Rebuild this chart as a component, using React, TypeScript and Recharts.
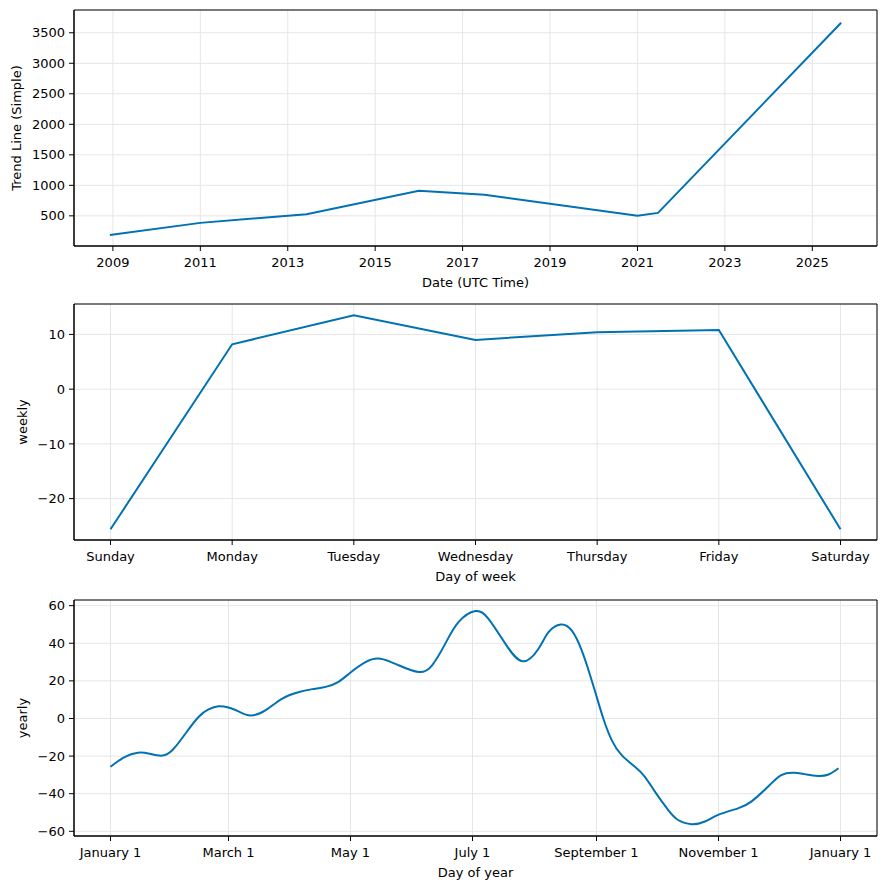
import React from 'react';
import { LineChart, Line, XAxis, YAxis, CartesianGrid, ReferenceArea } from 'recharts';

// Panel 1: trend
const trendYears = [2008.93, 2011.0, 2013.43, 2016.0, 2017.5, 2021.0, 2021.47, 2025.66];
const trendValues = [188, 385, 527, 911, 845, 500, 548, 3665];
const trendTicks = [2009, 2011, 2013, 2015, 2017, 2019, 2021, 2023, 2025];
const trendYTicks = [500, 1000, 1500, 2000, 2500, 3000, 3500];

// Panel 2: weekly
const weekDays = ['Sunday', 'Monday', 'Tuesday', 'Wednesday', 'Thursday', 'Friday', 'Saturday'];
const weeklyValues = [-25.6, 8.2, 13.5, 9.0, 10.4, 10.8, -25.6];
const weeklyYTicks = [-20, -10, 0, 10];

// Panel 3: yearly
const yearDays = [0, 7, 13.6, 19, 25.3, 31, 37.5, 44, 49, 54, 59, 64, 70, 77.6, 85.9, 94.3, 101, 107.6, 114, 119.7, 127.5, 135, 144.1, 154.1, 160.8, 167.4, 174, 182.4, 189, 197.4, 206, 214, 219, 225.1, 230.6, 235.6, 239.8, 243.1, 246.4, 250.6, 255.6, 262.2, 267.2, 272.2, 278.8, 283.8, 290.5, 297.2, 303.8, 313.7, 320.4, 328.7, 335.4, 342, 348, 353.6, 359, 364];
const yearlyValues = [-25.7, -20.5, -18.2, -18.6, -19.8, -16.8, -8, 0.8, 4.8, 6.5, 5.8, 3.8, 1.6, 4.4, 10.6, 14.1, 15.6, 16.8, 19.5, 24.2, 30.0, 31.8, 28.3, 24.7, 28.3, 39.8, 51.2, 57.1, 53, 39.8, 30.4, 37.1, 45.9, 50.0, 46.8, 36.2, 23.0, 11.5, 0, -11.5, -19.5, -25.7, -31, -38.9, -48.6, -54, -56.2, -54.8, -51.3, -47.8, -44.2, -36.3, -30.1, -28.9, -29.8, -30.6, -29.8, -26.5];
const yearTickDays = [0, 59, 120, 181, 243, 304, 365];
const yearTickLabels = ['January 1', 'March 1', 'May 1', 'July 1', 'September 1', 'November 1', 'January 1'];
const yearlyYTicks = [-60, -40, -20, 0, 20, 40, 60];

const trendData = trendYears.map((x, i) => ({ x, y: trendValues[i] }));
const weeklyData = weeklyValues.map((y, i) => ({ x: i, y }));
const yearlyData = yearDays.map((x, i) => ({ x, y: yearlyValues[i] }));

const FONT = 'DejaVu Sans, sans-serif';
const tickStyle = { fill: '#000', fontSize: 13, fontFamily: FONT };
const LINE = '#0072B2';
const GRID = '#e6e6e6';
const minus = (v: number) => String(v).replace('-', '\u2212');

type PanelProps = {
  top: number;
  height: number;
  data: { x: number; y: number }[];
  xDomain: [number, number];
  xTicks: number[];
  xFormat: (v: number) => string;
  yDomain: [number, number];
  yTicks: number[];
  xLabel: string;
  yLabel: string;
  yLabelX: number;
  curve: 'linear' | 'natural';
};

function Panel(p: PanelProps) {
  const marginTop = 8;
  const plotH = 236;
  const xAxisH = 50;
  const marginBottom = p.height - marginTop - plotH - xAxisH;
  return (
    <div style={{ position: 'absolute', left: 0, top: p.top, width: 886, height: p.height }}>
      <LineChart
        width={886}
        height={p.height}
        data={p.data}
        margin={{ top: marginTop, right: 9, left: 14, bottom: marginBottom }}
      >
        <CartesianGrid xAxisId="b" yAxisId="l" stroke={GRID} strokeWidth={1} />
        <XAxis
          xAxisId="b"
          dataKey="x"
          type="number"
          domain={p.xDomain}
          ticks={p.xTicks}
          tickFormatter={p.xFormat}
          allowDataOverflow
          interval={0}
          height={xAxisH}
          tick={tickStyle}
          tickSize={5}
          tickMargin={7}
          axisLine={{ stroke: '#000' }}
          tickLine={{ stroke: '#000' }}
          label={{ value: p.xLabel, position: 'insideBottom', offset: 9, style: { fill: '#000', fontSize: 13, fontFamily: FONT } }}
        />
        <YAxis
          yAxisId="l"
          type="number"
          domain={p.yDomain}
          ticks={p.yTicks}
          tickFormatter={minus}
          allowDataOverflow
          interval={0}
          width={60}
          tick={tickStyle}
          tickSize={5}
          tickMargin={4}
          axisLine={{ stroke: '#000' }}
          tickLine={{ stroke: '#000' }}
          label={{ value: p.yLabel, angle: -90, position: 'insideLeft', offset: p.yLabelX - 14, style: { textAnchor: 'middle', fill: '#000', fontSize: 13, fontFamily: FONT } }}
        />
        <Line
          xAxisId="b"
          yAxisId="l"
          dataKey="y"
          type={p.curve}
          stroke={LINE}
          strokeWidth={2}
          dot={false}
          isAnimationActive={false}
        />
        <ReferenceArea
          xAxisId="b"
          yAxisId="l"
          x1={p.xDomain[0]}
          x2={p.xDomain[1]}
          y1={p.yDomain[0]}
          y2={p.yDomain[1]}
          fill="none"
          fillOpacity={0}
          stroke="#000"
          strokeWidth={1}
          ifOverflow="visible"
        />
      </LineChart>
    </div>
  );
}

export default function App() {
  return (
    <div style={{ position: 'absolute', left: 0, top: 0, width: 886, height: 889, background: '#fff', overflow: 'hidden' }}>
      <Panel
        top={2}
        height={298}
        data={trendData}
        xDomain={[2008.11, 2026.48]}
        xTicks={trendTicks}
        xFormat={(v) => String(v)}
        yDomain={[6, 3873]}
        yTicks={trendYTicks}
        xLabel="Date (UTC Time)"
        yLabel="Trend Line (Simple)"
        yLabelX={16}
        curve="linear"
      />
      <Panel
        top={296}
        height={298}
        data={weeklyData}
        xDomain={[-0.3, 6.3]}
        xTicks={[0, 1, 2, 3, 4, 5, 6]}
        xFormat={(v) => weekDays[v] ?? ''}
        yDomain={[-27.56, 15.56]}
        yTicks={weeklyYTicks}
        xLabel="Day of week"
        yLabel="weekly"
        yLabelX={22}
        curve="linear"
      />
      <Panel
        top={592}
        height={297}
        data={yearlyData}
        xDomain={[-18.25, 383.25]}
        xTicks={yearTickDays}
        xFormat={(v) => yearTickLabels[yearTickDays.indexOf(v)] ?? ''}
        yDomain={[-62.5, 63]}
        yTicks={yearlyYTicks}
        xLabel="Day of year"
        yLabel="yearly"
        yLabelX={22}
        curve="natural"
      />
    </div>
  );
}
